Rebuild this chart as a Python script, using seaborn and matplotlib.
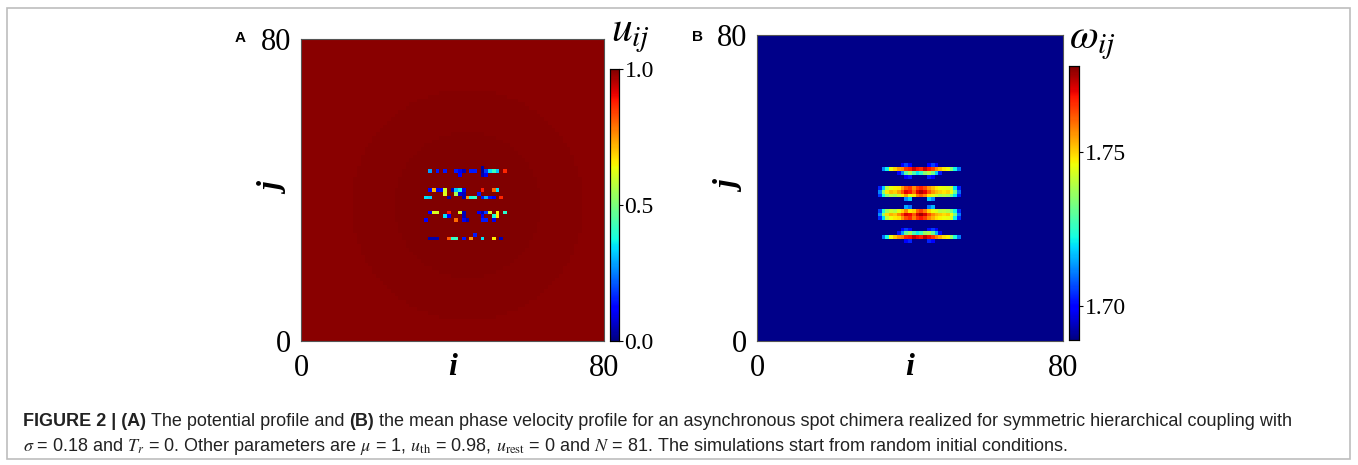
import numpy as np
import pandas as pd
import matplotlib
matplotlib.use("Agg")
import matplotlib.pyplot as plt
import seaborn as sns
from matplotlib.patches import Rectangle

plt.rcParams["font.family"] = ["Liberation Serif", "DejaVu Serif"]
plt.rcParams["mathtext.fontset"] = "stix"

W, H = 1358, 465
N = 81

# ---------------- Panel A: potential u_ij ----------------
A_CENTER_I = 44
A_CENTER_J = 36
A_RING_RADII = [31.0, 19.5, 10.0]          # outer -> inner
A_RING_VALUES = [0.990, 0.994, 0.997, 1.0]  # outside, then inside each radius

A_SPOT_ROWS = [46, 45, 44, 40, 39, 38, 34, 33, 32, 28, 27]
A_SPOT_COLS = [
    [48],
    [34, 36, 38, 41, 42, 43, 45, 46, 48, 49, 50, 51, 52, 54],
    [42, 48, 49],
    [34, 35, 36, 37, 38, 40, 41, 42, 43, 48, 51, 52],
    [38, 41, 42, 43, 47],
    [33, 34, 39, 43, 44, 45, 46, 48, 49, 50, 51, 53],
    [34, 35, 36, 39, 42, 43, 47, 48, 49, 50, 52, 54],
    [38, 39, 43, 48, 51, 52],
    [33, 41, 43, 44, 48, 49, 51],
    [46],
    [34, 35, 36, 39, 40, 41, 43, 45, 48, 51, 53],
]
A_SPOT_VALS = [
    [0.03],
    [0.28, 0.15, 0.15, 0.15, 0.10, 0.05, 0.15, 0.15, 0.02, 0.18, 0.35, 0.42, 0.32, 0.87],
    [0.12, 0.04, 0.10],
    [0.12, 0.72, 0.10, 0.12, 0.60, 0.05, 0.32, 0.38, 0.10, 0.88, 0.80, 0.35],
    [0.62, 0.55, 0.08, 0.05, 0.15],
    [0.35, 0.33, 0.05, 0.04, 0.75, 0.38, 0.42, 0.15, 0.30, 0.15, 0.12, 0.87],
    [0.12, 0.62, 0.60, 0.88, 0.60, 0.05, 0.10, 0.04, 0.18, 0.60, 0.65, 0.40],
    [0.35, 0.12, 0.05, 0.10, 0.38, 0.66],
    [0.12, 0.80, 0.10, 0.05, 0.15, 0.15, 0.10],
    [0.15],
    [0.04, 0.04, 0.04, 0.82, 0.40, 0.42, 0.15, 0.75, 0.35, 0.66, 0.05],
]
A_CBAR_TICKS = [0.0, 0.5, 1.0]
A_CBAR_LABELS = ["0.0", "0.5", "1.0"]

# ---------------- Panel B: mean phase velocity omega_ij ----------------
BG = 1.690
B_FIRST_COL = 31   # rows below list values for columns 31..55
B_J46 = [BG] * 7 + [1.700, 1.706, 1.700] + [BG] * 4 + [1.700, 1.706, 1.700] + [BG] * 8
B_J45 = [BG, BG, 1.712, 1.722, 1.745, 1.750, 1.755, 1.757, 1.765, 1.767, 1.772, 1.768, 1.766,
         1.772, 1.768, 1.764, 1.757, 1.752, 1.748, 1.746, 1.735, 1.722, 1.710, BG, BG]
B_J44 = [BG] * 6 + [1.700, 1.712, 1.730, 1.738, 1.728, 1.720, 1.725, 1.735, 1.740, 1.732,
                    1.718, 1.702] + [BG] * 7
B_J43 = [BG] * 8 + [1.700, 1.703] + [BG] * 4 + [1.703, 1.700] + [BG] * 9
B_J40 = [BG, 1.703, 1.718, 1.740, 1.745, 1.747, 1.748, 1.755, 1.762, 1.765, 1.757, 1.764, 1.767,
         1.763, 1.756, 1.752, 1.748, 1.746, 1.745, 1.744, 1.742, 1.720, 1.703, BG, BG]
B_J39 = [BG, 1.712, 1.735, 1.748, 1.752, 1.750, 1.755, 1.762, 1.770, 1.768, 1.760, 1.770, 1.774,
         1.770, 1.762, 1.756, 1.752, 1.750, 1.748, 1.750, 1.745, 1.732, 1.710, BG, BG]
B_J38 = [BG, 1.705, 1.722, 1.735, 1.740, 1.738, 1.742, 1.748, 1.755, 1.745, 1.748, 1.758, 1.762,
         1.757, 1.748, 1.745, 1.742, 1.738, 1.740, 1.738, 1.732, 1.720, 1.703, BG, BG]
B_J37 = [BG] * 8 + [1.712, 1.718] + [BG] * 4 + [1.718, 1.712] + [BG] * 9
B_J35 = [BG] * 8 + [1.715, 1.710] + [BG] * 4 + [1.710, 1.716] + [BG] * 9
B_J34 = [BG, 1.706, 1.724, 1.737, 1.742, 1.740, 1.745, 1.750, 1.757, 1.748, 1.750, 1.760, 1.764,
         1.758, 1.750, 1.746, 1.744, 1.740, 1.741, 1.739, 1.733, 1.722, 1.704, BG, BG]
B_J33 = [BG, 1.713, 1.737, 1.749, 1.753, 1.751, 1.757, 1.764, 1.771, 1.769, 1.762, 1.771, 1.775,
         1.771, 1.763, 1.757, 1.753, 1.751, 1.749, 1.751, 1.746, 1.733, 1.711, BG, BG]
B_J32 = [BG, 1.704, 1.720, 1.741, 1.746, 1.748, 1.749, 1.756, 1.763, 1.766, 1.758, 1.765, 1.768,
         1.764, 1.757, 1.753, 1.749, 1.747, 1.746, 1.745, 1.743, 1.721, 1.704, BG, BG]
B_J29 = [BG] * 7 + [1.700, 1.705, 1.701] + [BG] * 4 + [1.701, 1.705, 1.700] + [BG] * 8
B_J28 = [BG] * 6 + [1.702, 1.714, 1.731, 1.737, 1.727, 1.721, 1.726, 1.736, 1.739, 1.731,
                    1.716, 1.701] + [BG] * 7
B_J27 = [BG, BG, 1.710, 1.723, 1.746, 1.751, 1.756, 1.758, 1.766, 1.768, 1.773, 1.769, 1.767,
         1.773, 1.769, 1.765, 1.758, 1.753, 1.749, 1.747, 1.736, 1.723, 1.711, BG, BG]
B_J26 = [BG] * 8 + [1.700, 1.703] + [BG] * 4 + [1.703, 1.700] + [BG] * 9
B_ROW_J = [46, 45, 44, 43, 40, 39, 38, 37, 35, 34, 33, 32, 29, 28, 27, 26]
B_ROW_VALUES = [B_J46, B_J45, B_J44, B_J43, B_J40, B_J39, B_J38, B_J37,
                B_J35, B_J34, B_J33, B_J32, B_J29, B_J28, B_J27, B_J26]
B_VMIN, B_VMAX = 1.689, 1.778
B_CBAR_TICKS = [1.70, 1.75]
B_CBAR_LABELS = ["1.70", "1.75"]

AXIS_TICK_LABELS = ["0", "80"]

# ---------------- build grids (index [j, i]) ----------------
jj, ii = np.mgrid[0:N, 0:N]
dist = np.hypot(ii - A_CENTER_I, jj - A_CENTER_J)
grid_a = np.full((N, N), A_RING_VALUES[0])
for r, v in zip(A_RING_RADII, A_RING_VALUES[1:]):
    grid_a[dist < r] = v
for j, cols, vals in zip(A_SPOT_ROWS, A_SPOT_COLS, A_SPOT_VALS):
    for i, v in zip(cols, vals):
        grid_a[j, i] = v

grid_b = np.full((N, N), BG)
for j, vals in zip(B_ROW_J, B_ROW_VALUES):
    grid_b[j, B_FIRST_COL:B_FIRST_COL + len(vals)] = vals

rows_top_down = list(range(N - 1, -1, -1))
df_a = pd.DataFrame(grid_a[::-1], index=rows_top_down, columns=range(N))
df_b = pd.DataFrame(grid_b[::-1], index=rows_top_down, columns=range(N))

# ---------------- figure ----------------
fig = plt.figure(figsize=(W / 100, H / 100), dpi=100)


def px_axes(x0, y0, x1, y1):
    return fig.add_axes([x0 / W, 1 - y1 / H, (x1 - x0) / W, (y1 - y0) / H])


ax_a = px_axes(301, 39, 604, 341)
cax_a = px_axes(610, 69, 619, 341)
ax_b = px_axes(757, 35, 1063, 341)
cax_b = px_axes(1069, 66, 1079, 340)

sns.heatmap(df_a, ax=ax_a, cbar_ax=cax_a, cmap="jet", vmin=0.0, vmax=1.0,
            xticklabels=False, yticklabels=False)
sns.heatmap(df_b, ax=ax_b, cbar_ax=cax_b, cmap="jet", vmin=B_VMIN, vmax=B_VMAX,
            xticklabels=False, yticklabels=False)

TICK_FS = 22
for ax in (ax_a, ax_b):
    ax.set_xticks([0, N])
    ax.set_xticklabels(AXIS_TICK_LABELS, fontsize=TICK_FS)
    ax.set_yticks([0, N])
    ax.set_yticklabels(AXIS_TICK_LABELS[::-1], fontsize=TICK_FS, rotation=0)
    ax.tick_params(axis="x", length=0, pad=9)
    ax.tick_params(axis="y", length=0, pad=7)
    for s in ax.spines.values():
        s.set_visible(True)
        s.set_linewidth(0.8)
        s.set_edgecolor("#555555")
    ax.set_xlabel("i", fontsize=23, fontstyle="italic", fontweight="bold")
    ax.set_ylabel("j", fontsize=23, fontstyle="italic", fontweight="bold")
    ax.xaxis.set_label_coords(0.5, -0.04)
    ax.yaxis.set_label_coords(-0.035, 0.5)

for cax, ticks, labels in ((cax_a, A_CBAR_TICKS, A_CBAR_LABELS),
                           (cax_b, B_CBAR_TICKS, B_CBAR_LABELS)):
    cax.set_yticks(ticks)
    cax.set_yticklabels(labels, fontsize=17)
    cax.tick_params(axis="y", length=3, width=0.8, pad=1, direction="out")
    for s in cax.spines.values():
        s.set_visible(True)
        s.set_linewidth(0.8)
        s.set_edgecolor("black")

fig.text(611 / W, 1 - 41 / H, r"$u_{ij}$", fontsize=30, ha="left", va="baseline",
         math_fontfamily="stix")
fig.text(1069 / W, 1 - 48 / H, r"$\omega_{ij}$", fontsize=30, ha="left", va="baseline",
         math_fontfamily="stix")

fig.text(235 / W, 1 - 42 / H, "A", fontsize=11, fontweight="bold", family="Liberation Sans",
         ha="left", va="baseline")
fig.text(692 / W, 1 - 41 / H, "B", fontsize=11, fontweight="bold", family="Liberation Sans",
         ha="left", va="baseline")

# outer frame
fig.add_artist(Rectangle((7 / W, 1 - 459 / H), (1350 - 7) / W, (459 - 8) / H,
                         transform=fig.transFigure, fill=False, edgecolor="#bdbdbd",
                         linewidth=1.2))

# caption
CAP_FS = 13.0
CAP_COLOR = "#222222"
renderer = fig.canvas.get_renderer()


def text_width(s, weight):
    t = fig.text(0, 0, s, fontsize=CAP_FS, fontweight=weight, family="Liberation Sans")
    w = t.get_window_extent(renderer).width
    t.remove()
    return w


space_w = text_width("a a", "normal") - text_width("aa", "normal")
runs = [("FIGURE 2 | (A)", "bold"), ("The potential profile and", "normal"),
        ("(B)", "bold"),
        ("the mean phase velocity profile for an asynchronous spot chimera realized for "
         "symmetric hierarchical coupling with", "normal")]
x = 23.0
for k, (s, wgt) in enumerate(runs):
    t = fig.text(x / W, 1 - 426 / H, s, fontsize=CAP_FS, fontweight=wgt,
                 family="Liberation Sans", color=CAP_COLOR, ha="left", va="baseline")
    x += t.get_window_extent(renderer).width + space_w

fig.text(23 / W, 1 - 451 / H,
         r"$\sigma$ = 0.18 and $T_r$ = 0. Other parameters are $\mu$ = 1, $u_{\mathrm{th}}$ = 0.98, "
         r"$u_{\mathrm{rest}}$ = 0 and $N$ = 81. The simulations start from random initial conditions.",
         fontsize=CAP_FS, family="Liberation Sans", color=CAP_COLOR, ha="left",
         va="baseline", math_fontfamily="stix")

fig.savefig("out.png", dpi=100)
